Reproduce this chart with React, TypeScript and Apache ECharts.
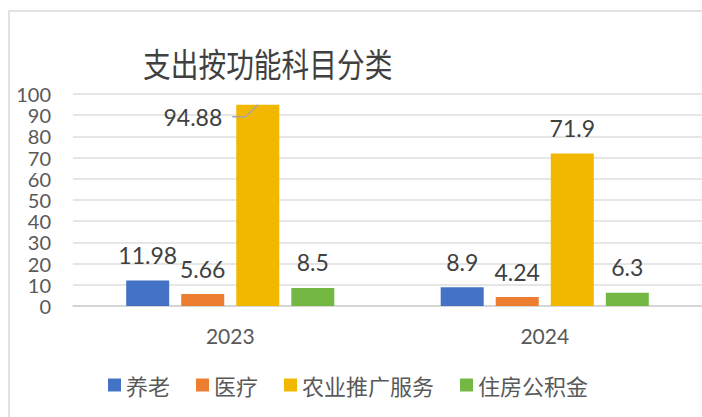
import React, { useEffect, useRef } from "react";
import * as echarts from "echarts";

const categories = ["2023", "2024"];
const seriesNames = ["养老", "医疗", "农业推广服务", "住房公积金"];
const pension = [11.98, 8.9];
const medical = [5.66, 4.24];
const agriculture = [94.88, 71.9];
const housingFund = [8.5, 6.3];
const titleText = "支出按功能科目分类";
const colors = ["#4472C4", "#ED7D31", "#F2B800", "#74B843"];
const yMin = 0;
const yMax = 100;
const yInterval = 10;

const NUM_FONT = "Lato, 'Noto Sans CJK SC', sans-serif";
const CJK_FONT = "'Noto Sans CJK SC', sans-serif";

export default function App() {
  const ref = useRef<HTMLDivElement>(null);

  useEffect(() => {
    if (!ref.current) return;
    const chart = echarts.init(ref.current, undefined, { renderer: "svg" });
    const values = [pension, medical, agriculture, housingFund];
    const series = values.map((vals, i) => ({
      name: seriesNames[i],
      type: "bar",
      data: vals,
      barWidth: 43,
      barGap: "28%",
      itemStyle: { color: colors[i] },
      label: {
        show: true,
        position: "top",
        distance: 14,
        fontSize: 23,
        color: "#404040",
        fontFamily: NUM_FONT,
      },
      labelLayout:
        i === 2
          ? (params: any) => {
              if (params.dataIndex !== 0) return {};
              const r = params.rect;
              return {
                x: r.x - 14,
                y: r.y + 12,
                align: "right",
                verticalAlign: "middle",
              };
            }
          : undefined,
    }));

    const baseGraphic: any[] = [
      {
        id: "frame",
        type: "rect",
        shape: { x: 9, y: 11, width: 1000, height: 1000 },
        style: { fill: "none", stroke: "#D9D9D9", lineWidth: 1.5 },
        silent: true,
      },
      {
        id: "title",
        type: "text",
        x: 143,
        y: 63,
        scaleX: 0.84,
        style: {
          text: titleText,
          fontSize: 33,
          fontFamily: CJK_FONT,
          fill: "#404040",
          align: "left",
          verticalAlign: "middle",
        },
        silent: true,
      },
    ];

    chart.setOption({
      animation: false,
      legend: {
        data: seriesNames,
        left: 103,
        top: 369,
        icon: "rect",
        itemWidth: 13,
        itemHeight: 13,
        itemGap: 26,
        textStyle: { fontSize: 22, color: "#595959", fontFamily: CJK_FONT },
      },
      grid: { left: 73, right: 0, top: 94, bottom: 111, containLabel: false },
      xAxis: {
        type: "category",
        data: categories,
        axisLine: { lineStyle: { color: "#D0D0D0", width: 1.5 } },
        axisTick: { show: false },
        axisLabel: {
          fontSize: 21,
          color: "#595959",
          margin: 19,
          fontFamily: NUM_FONT,
        },
      },
      yAxis: {
        type: "value",
        min: yMin,
        max: yMax,
        interval: yInterval,
        axisLine: { show: false },
        axisTick: { show: false },
        splitLine: { lineStyle: { color: "#DEDEDE", width: 1.5 } },
        axisLabel: {
          fontSize: 20,
          lineHeight: 20,
          color: "#595959",
          margin: 22,
          fontFamily: NUM_FONT,
        },
      },
      graphic: baseGraphic,
      series,
    });

    // Leader line for the 94.88 label, anchored on the bar layout computed by ECharts
    try {
      const model: any = (chart as any).getModel();
      const data = model.getSeriesByIndex(2).getData();
      const lay = data.getItemLayout(0);
      if (lay) {
        const top = Math.min(lay.y, lay.y + lay.height);
        const cx = lay.x + lay.width / 2;
        const ly = top + 12;
        chart.setOption({
          graphic: [
            ...baseGraphic,
            {
              id: "leader",
              type: "polyline",
              shape: {
                points: [
                  [lay.x - 4, ly],
                  [cx - 12, ly],
                  [cx, top],
                ],
              },
              style: { stroke: "#A6A6A6", lineWidth: 1.5, fill: "none" },
              silent: true,
              z: 10,
            },
          ],
        });
      }
    } catch (e) {
      // ignore
    }
    return () => chart.dispose();
  }, []);

  return (
    <div
      ref={ref}
      style={{ position: "fixed", left: 0, top: 0, width: 702, height: 417, background: "#fff" }}
    />
  );
}
